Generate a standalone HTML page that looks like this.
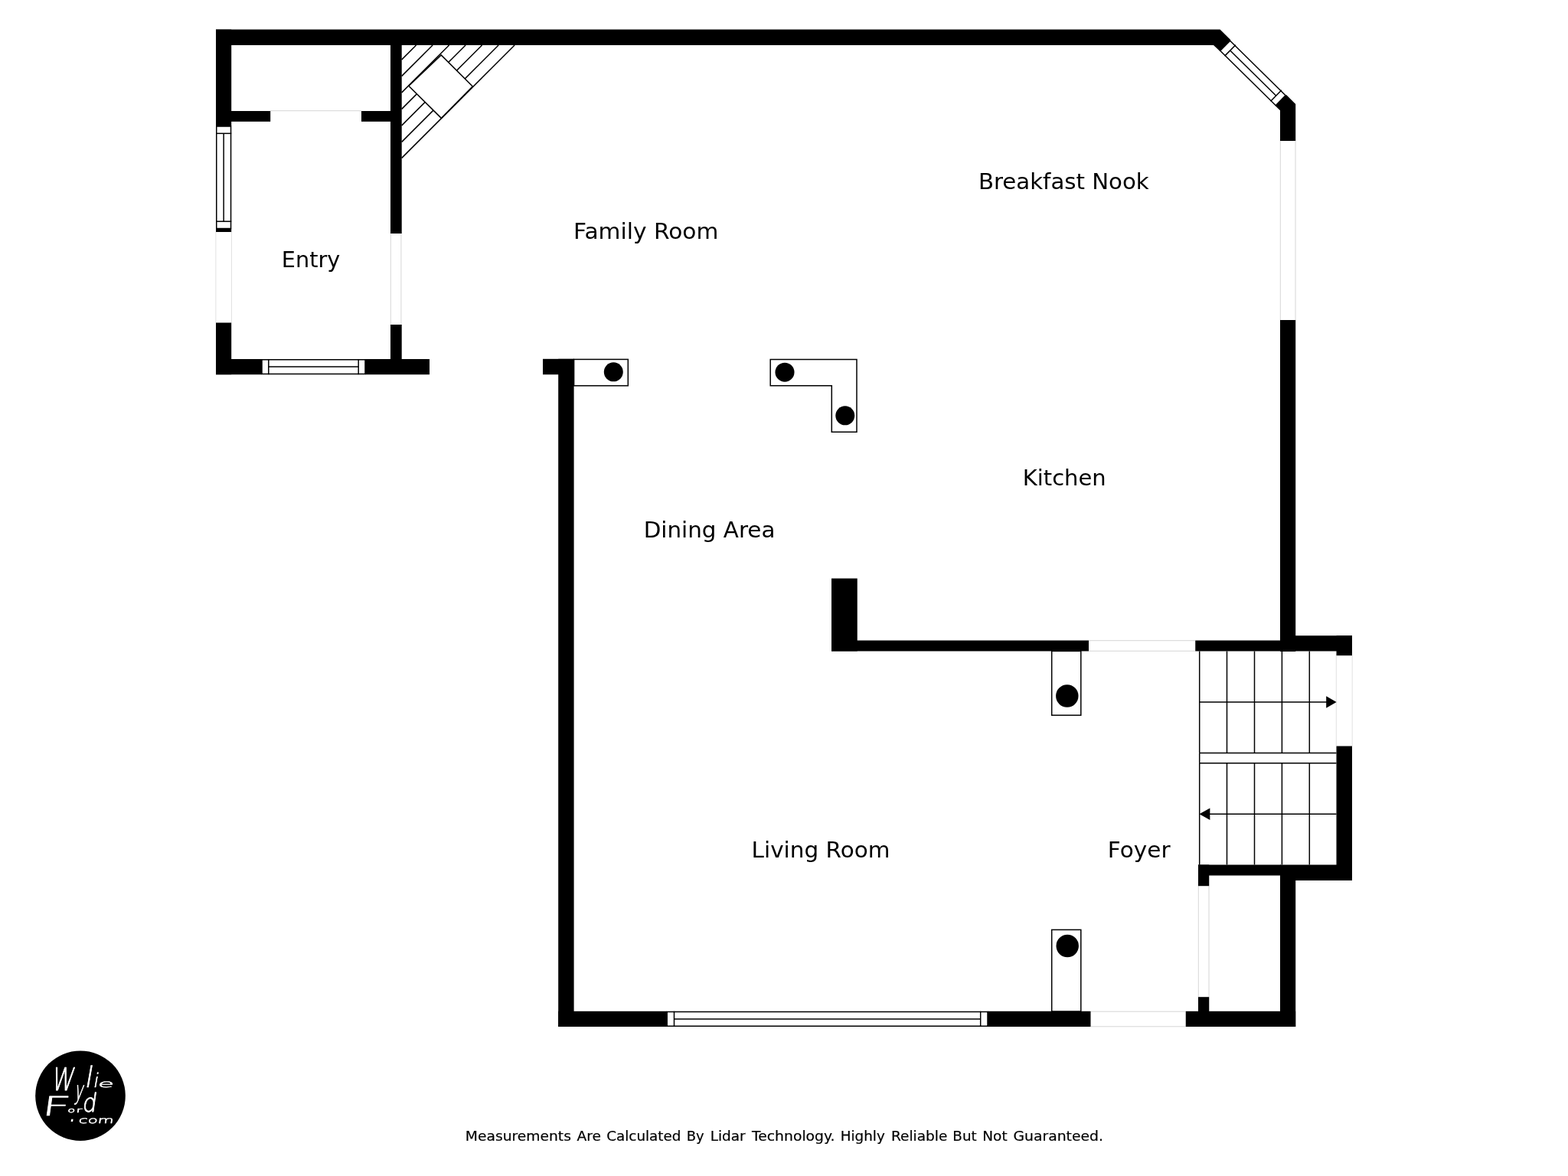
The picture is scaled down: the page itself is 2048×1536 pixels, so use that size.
<!DOCTYPE html>
<html lang="en">
<head>
<meta charset="utf-8">
<title>Floor Plan</title>
<style>
html,body{margin:0;padding:0;background:#fff;}
body{width:2048px;height:1536px;overflow:hidden;}
svg{display:block;will-change:transform;}
text{white-space:pre;}
</style>
</head>
<body>
<svg width="2048" height="1536" viewBox="0 0 2048 1536">
<rect x="0" y="0" width="2048" height="1536" fill="#fff"/>
<g id="openings">
<line x1="281.90" y1="303.00" x2="281.90" y2="421.50" stroke="#e2e2e2" stroke-width="1.0" />
<line x1="302.50" y1="303.00" x2="302.50" y2="421.50" stroke="#e2e2e2" stroke-width="1.0" />
<line x1="510.30" y1="305.00" x2="510.30" y2="424.00" stroke="#d6d6d6" stroke-width="1.0" />
<line x1="523.90" y1="305.00" x2="523.90" y2="424.00" stroke="#d6d6d6" stroke-width="1.0" />
<line x1="353.00" y1="144.70" x2="472.00" y2="144.70" stroke="#d6d6d6" stroke-width="1.0" />
<line x1="1672.30" y1="184.00" x2="1672.30" y2="418.00" stroke="#d6d6d6" stroke-width="1.0" />
<line x1="1692.00" y1="184.00" x2="1692.00" y2="418.00" stroke="#d6d6d6" stroke-width="1.0" />
<line x1="1422.00" y1="836.70" x2="1561.00" y2="836.70" stroke="#d6d6d6" stroke-width="1.0" />
<line x1="1422.00" y1="850.30" x2="1561.00" y2="850.30" stroke="#d6d6d6" stroke-width="1.0" />
<line x1="1745.30" y1="856.00" x2="1745.30" y2="974.50" stroke="#e2e2e2" stroke-width="1.0" />
<line x1="1766.20" y1="856.00" x2="1766.20" y2="974.50" stroke="#e2e2e2" stroke-width="1.0" />
<line x1="1565.30" y1="1157.00" x2="1565.30" y2="1302.00" stroke="#d6d6d6" stroke-width="1.0" />
<line x1="1579.00" y1="1157.00" x2="1579.00" y2="1302.00" stroke="#d6d6d6" stroke-width="1.0" />
<line x1="1424.50" y1="1321.20" x2="1548.75" y2="1321.20" stroke="#d6d6d6" stroke-width="1.0" />
<line x1="1424.50" y1="1340.80" x2="1548.75" y2="1340.80" stroke="#d6d6d6" stroke-width="1.0" />
</g>
<g id="fireplace">
<line x1="524.70" y1="77.90" x2="543.60" y2="59.00" stroke="#000" stroke-width="1.5" />
<line x1="524.70" y1="99.40" x2="565.10" y2="59.00" stroke="#000" stroke-width="1.5" />
<line x1="524.70" y1="120.90" x2="586.60" y2="59.00" stroke="#000" stroke-width="1.5" />
<line x1="524.70" y1="142.40" x2="608.10" y2="59.00" stroke="#000" stroke-width="1.5" />
<line x1="524.70" y1="163.90" x2="629.60" y2="59.00" stroke="#000" stroke-width="1.5" />
<line x1="524.70" y1="185.40" x2="651.10" y2="59.00" stroke="#000" stroke-width="1.5" />
<line x1="524.70" y1="206.40" x2="672.10" y2="59.00" stroke="#000" stroke-width="1.5" />
<polygon points="576.20,71.90 533.90,112.30 576.40,154.40 617.40,112.90" fill="#fff" stroke="#000" stroke-width="1.5"/>
</g>
<g id="windows">
<rect x="342.00" y="469.75" width="135.00" height="18.70" fill="#fff" stroke="#000" stroke-width="1.5"/>
<line x1="350.80" y1="469.00" x2="350.80" y2="489.20" stroke="#000" stroke-width="1.5" />
<line x1="468.20" y1="469.00" x2="468.20" y2="489.20" stroke="#000" stroke-width="1.5" />
<line x1="350.80" y1="479.10" x2="468.20" y2="479.10" stroke="#000" stroke-width="1.5" />
<rect x="871.20" y="1321.55" width="418.80" height="18.70" fill="#fff" stroke="#000" stroke-width="1.5"/>
<line x1="880.50" y1="1320.80" x2="880.50" y2="1341.00" stroke="#000" stroke-width="1.5" />
<line x1="1280.70" y1="1320.80" x2="1280.70" y2="1341.00" stroke="#000" stroke-width="1.5" />
<line x1="880.50" y1="1330.90" x2="1280.70" y2="1330.90" stroke="#000" stroke-width="1.5" />
<rect x="282.75" y="165.00" width="18.80" height="133.50" fill="#fff" stroke="#000" stroke-width="1.5"/>
<line x1="282.00" y1="174.30" x2="302.30" y2="174.30" stroke="#000" stroke-width="1.5" />
<line x1="282.00" y1="289.20" x2="302.30" y2="289.20" stroke="#000" stroke-width="1.5" />
<line x1="292.15" y1="174.30" x2="292.15" y2="289.20" stroke="#000" stroke-width="1.5" />
</g>
<g id="walls" fill="#000">
<polygon points="282.00,38.60 1593.50,38.60 1607.46,52.36 1593.21,66.82 1585.00,58.90 282.00,58.90" fill="#000"/>
<polygon points="1679.95,123.83 1692.20,135.90 1692.20,184.00 1672.00,184.00 1672.00,144.30 1665.70,138.28" fill="#000"/>
</g>
<g id="diagwin">
<polygon points="1606.65,53.18 1679.15,124.65 1666.23,137.75 1593.73,66.28" fill="#fff" stroke="#000" stroke-width="1.5"/>
<line x1="1613.87" y1="58.68" x2="1599.62" y2="73.13" stroke="#000" stroke-width="1.5" />
<line x1="1673.83" y1="117.79" x2="1659.58" y2="132.25" stroke="#000" stroke-width="1.5" />
<line x1="1606.74" y1="65.91" x2="1666.70" y2="125.02" stroke="#000" stroke-width="1.5" />
</g>
<g id="walls2" fill="#000">
<rect x="282.00" y="38.60" width="20.20" height="126.40" fill="#000" />
<rect x="282.00" y="298.20" width="20.20" height="4.80" fill="#000" />
<rect x="282.00" y="421.50" width="20.20" height="67.70" fill="#000" />
<rect x="282.00" y="469.00" width="60.00" height="20.20" fill="#000" />
<rect x="477.00" y="469.00" width="84.00" height="20.20" fill="#000" />
<rect x="510.00" y="58.90" width="14.70" height="246.10" fill="#000" />
<rect x="510.00" y="424.00" width="14.70" height="46.00" fill="#000" />
<rect x="302.00" y="145.00" width="51.20" height="13.80" fill="#000" />
<rect x="472.00" y="145.00" width="39.00" height="13.80" fill="#000" />
<rect x="709.00" y="468.80" width="41.00" height="20.40" fill="#000" />
<rect x="729.20" y="468.80" width="20.40" height="872.20" fill="#000" />
<rect x="729.20" y="1320.80" width="142.00" height="20.20" fill="#000" />
<rect x="1290.00" y="1320.80" width="134.50" height="20.20" fill="#000" />
<rect x="1548.75" y="1320.80" width="143.45" height="20.20" fill="#000" />
<rect x="1672.00" y="418.00" width="20.20" height="433.00" fill="#000" />
<rect x="1672.00" y="1143.00" width="20.20" height="198.00" fill="#000" />
<rect x="1086.00" y="755.50" width="33.75" height="95.00" fill="#000" />
<rect x="1086.00" y="836.50" width="336.00" height="14.00" fill="#000" />
<rect x="1561.25" y="836.50" width="111.75" height="14.00" fill="#000" />
<rect x="1672.00" y="830.20" width="94.00" height="20.30" fill="#000" />
<rect x="1745.50" y="830.20" width="20.50" height="26.00" fill="#000" />
<rect x="1745.50" y="974.50" width="20.50" height="175.50" fill="#000" />
<rect x="1672.00" y="1129.50" width="94.00" height="20.50" fill="#000" />
<rect x="1565.00" y="1129.50" width="108.00" height="14.00" fill="#000" />
<rect x="1565.00" y="1129.50" width="14.25" height="27.70" fill="#000" />
<rect x="1565.00" y="1302.20" width="14.25" height="38.80" fill="#000" />
</g>
<g id="columns">
<rect x="749.60" y="469.40" width="70.70" height="34.40" fill="#fff" stroke="#000" stroke-width="1.5"/>
<circle cx="801.30" cy="485.80" r="12.50" fill="#000"/>
<polygon points="1006.20,469.40 1119.00,469.40 1119.00,564.30 1086.30,564.30 1086.30,503.80 1006.20,503.80" fill="#fff" stroke="#000" stroke-width="1.5"/>
<circle cx="1025.00" cy="486.20" r="12.50" fill="#000"/>
<circle cx="1103.80" cy="542.80" r="12.50" fill="#000"/>
<rect x="1373.70" y="850.40" width="38.10" height="83.80" fill="#fff" stroke="#000" stroke-width="1.5"/>
<circle cx="1393.80" cy="909.00" r="14.70" fill="#000"/>
<rect x="1373.70" y="1214.40" width="38.10" height="106.60" fill="#fff" stroke="#000" stroke-width="1.5"/>
<circle cx="1394.20" cy="1235.50" r="14.70" fill="#000"/>
</g>
<g id="stairs">
<line x1="1566.70" y1="850.50" x2="1566.70" y2="983.50" stroke="#000" stroke-width="1.5" />
<line x1="1566.70" y1="996.80" x2="1566.70" y2="1129.50" stroke="#000" stroke-width="1.5" />
<line x1="1602.50" y1="850.50" x2="1602.50" y2="983.50" stroke="#000" stroke-width="1.5" />
<line x1="1602.50" y1="996.80" x2="1602.50" y2="1129.50" stroke="#000" stroke-width="1.5" />
<line x1="1638.50" y1="850.50" x2="1638.50" y2="983.50" stroke="#000" stroke-width="1.5" />
<line x1="1638.50" y1="996.80" x2="1638.50" y2="1129.50" stroke="#000" stroke-width="1.5" />
<line x1="1674.40" y1="850.50" x2="1674.40" y2="983.50" stroke="#000" stroke-width="1.5" />
<line x1="1674.40" y1="996.80" x2="1674.40" y2="1129.50" stroke="#000" stroke-width="1.5" />
<line x1="1710.30" y1="850.50" x2="1710.30" y2="983.50" stroke="#000" stroke-width="1.5" />
<line x1="1710.30" y1="996.80" x2="1710.30" y2="1129.50" stroke="#000" stroke-width="1.5" />
<line x1="1566.70" y1="983.50" x2="1745.50" y2="983.50" stroke="#000" stroke-width="1.5" />
<line x1="1566.70" y1="996.80" x2="1745.50" y2="996.80" stroke="#000" stroke-width="1.5" />
<line x1="1566.70" y1="983.50" x2="1566.70" y2="996.80" stroke="#000" stroke-width="1.5" />
<line x1="1566.70" y1="917.00" x2="1735.00" y2="917.00" stroke="#000" stroke-width="1.5" />
<polygon points="1745.60,917.00 1732.20,909.20 1732.20,924.80" fill="#000"/>
<line x1="1578.00" y1="1063.30" x2="1745.50" y2="1063.30" stroke="#000" stroke-width="1.5" />
<polygon points="1566.40,1063.30 1580.40,1055.60 1580.40,1071.00" fill="#000"/>
</g>
<g id="logo">
<circle cx="105.00" cy="1431.20" r="58.80" fill="#000"/>
<g fill="#fff" font-family="'DejaVu Sans', 'Liberation Sans', sans-serif" font-weight="200" stroke="#fff" stroke-linejoin="round">
<text transform="translate(72,1425) skewX(-10)"><tspan x="-6.06" y="-0.60" font-size="40.82" font-weight="200" stroke-width="0.9" textLength="29.23" lengthAdjust="spacingAndGlyphs">W</tspan><tspan x="26.73" y="11.25" font-size="34.03" font-weight="200" stroke-width="0.9" textLength="11.02" lengthAdjust="spacingAndGlyphs">y</tspan><tspan x="37.04" y="-4.75" font-size="37.50" font-weight="200" stroke-width="0.7" textLength="9.98" lengthAdjust="spacingAndGlyphs">l</tspan><tspan x="48.25" y="-4.95" font-size="25.26" font-weight="200" stroke-width="0.6" textLength="7.02" lengthAdjust="spacingAndGlyphs">i</tspan><tspan x="54.39" y="-4.90" font-size="13.22" font-weight="200" stroke-width="0.5" textLength="21.10" lengthAdjust="spacingAndGlyphs">e</tspan></text>
<text transform="translate(55,1457) skewX(-8)"><tspan x="-1.88" y="-0.05" font-size="34.52" font-weight="200" stroke-width="0.5" textLength="37.73" lengthAdjust="spacingAndGlyphs">F</tspan><tspan x="32.54" y="-3.65" font-size="8.83" font-weight="200" stroke-width="0.5" textLength="9.81" lengthAdjust="spacingAndGlyphs">o</tspan><tspan x="43.86" y="-3.65" font-size="9.11" font-weight="200" stroke-width="0.5" textLength="7.49" lengthAdjust="spacingAndGlyphs">r</tspan><tspan x="51.05" y="-5.00" font-size="33.29" font-weight="200" stroke-width="0.9" textLength="18.52" lengthAdjust="spacingAndGlyphs">d</tspan></text>
<text transform="translate(92,1467) skewX(-8)"><tspan x="-2.18" y="-2.20" font-size="25.60" font-weight="400" stroke-width="0" textLength="7.30" lengthAdjust="spacingAndGlyphs">.</tspan><tspan x="10.31" y="-0.30" font-size="11.77" font-weight="200" stroke-width="0.5" textLength="45.80" lengthAdjust="spacingAndGlyphs">com</tspan></text>
</g></g>
<g id="labels" font-family="'DejaVu Sans', 'Liberation Sans', sans-serif" font-size="28.3" fill="#000">
<text x="749.1" y="311.9" textLength="189.32" lengthAdjust="spacingAndGlyphs">Family Room</text>
<text x="1277.9" y="247.25" textLength="222.88" lengthAdjust="spacingAndGlyphs">Breakfast Nook</text>
<text x="367.82" y="348.75" textLength="76.4" lengthAdjust="spacingAndGlyphs">Entry</text>
<text x="1335.7" y="633.7" textLength="108.99000000000001" lengthAdjust="spacingAndGlyphs">Kitchen</text>
<text x="840.68" y="701.7" textLength="171.75" lengthAdjust="spacingAndGlyphs">Dining Area</text>
<text x="981.57" y="1119.9" textLength="180.97" lengthAdjust="spacingAndGlyphs">Living Room</text>
<text x="1446.85" y="1120" textLength="81.67" lengthAdjust="spacingAndGlyphs">Foyer</text>
</g>
<text id="footer" y="1490" font-family="'DejaVu Sans', 'Liberation Sans', sans-serif" font-size="18.1" fill="#000" stroke="#000" stroke-width="0.2"><tspan x="607.89" textLength="138.04" lengthAdjust="spacingAndGlyphs">Measurements</tspan> <tspan x="753.54" textLength="31.56" lengthAdjust="spacingAndGlyphs">Are</tspan> <tspan x="792.19" textLength="97.29" lengthAdjust="spacingAndGlyphs">Calculated</tspan> <tspan x="896.72" textLength="22.90" lengthAdjust="spacingAndGlyphs">By</tspan> <tspan x="927.66" textLength="46.06" lengthAdjust="spacingAndGlyphs">Lidar</tspan> <tspan x="981.95" textLength="108.51" lengthAdjust="spacingAndGlyphs">Technology.</tspan> <tspan x="1097.68" textLength="58.11" lengthAdjust="spacingAndGlyphs">Highly</tspan> <tspan x="1163.90" textLength="73.56" lengthAdjust="spacingAndGlyphs">Reliable</tspan> <tspan x="1244.33" textLength="31.36" lengthAdjust="spacingAndGlyphs">But</tspan> <tspan x="1283.31" textLength="32.35" lengthAdjust="spacingAndGlyphs">Not</tspan> <tspan x="1323.41" textLength="117.59" lengthAdjust="spacingAndGlyphs">Guaranteed.</tspan></text>
</svg>
</body>
</html>
